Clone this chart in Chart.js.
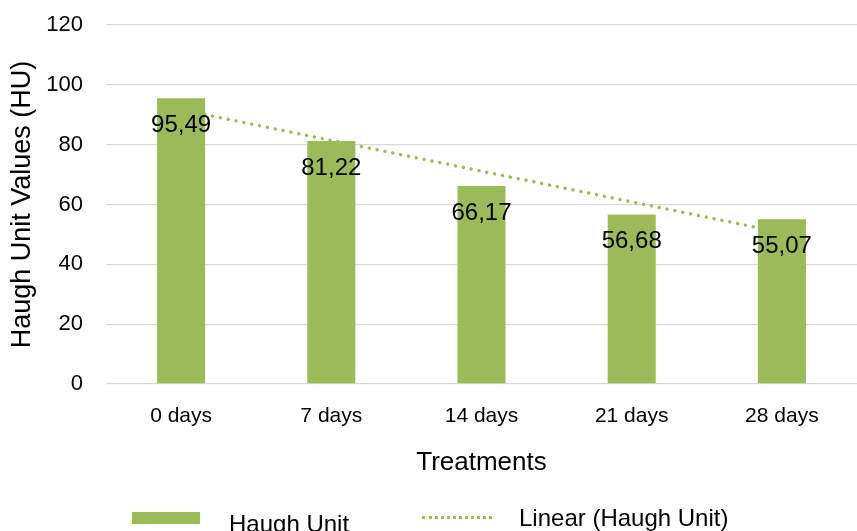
<!DOCTYPE html>
<html>
<head>
<meta charset="utf-8">
<script src="https://cdn.jsdelivr.net/npm/chart.js@4/dist/chart.umd.min.js"></script>
<style>
    html, body { margin: 0; padding: 0; background: #fff; overflow: hidden; }
    .wrap { position: relative; width: 857px; height: 531px; overflow: hidden; font-family: Arial, "Liberation Sans", sans-serif; }
    canvas { position: absolute; left: 0; top: 0; }
    .legend-box { position: absolute; left: 132px; top: 512px; width: 68px; height: 12px; background: #9BBB59; }
    .legend-dots { position: absolute; left: 422px; top: 516px; width: 70px; height: 0; border-top: 3px dotted #9BBB59; }
    .legend-text { position: absolute; font-size: 24px; line-height: 24px; color: #000; white-space: nowrap; }
</style>
</head>
<body>
<div class="wrap">
    <canvas id="haughChart" width="857" height="531"></canvas>
    <div class="legend-box"></div>
    <div class="legend-text" style="left:229px; top:512px;">Haugh Unit</div>
    <div class="legend-dots"></div>
    <div class="legend-text" style="left:519px; top:506px;">Linear (Haugh Unit)</div>
</div>
<script>
const FONT = 'Arial, "Liberation Sans", sans-serif';
const GREEN = '#9BBB59';

const treatments = ['0 days', '7 days', '14 days', '21 days', '28 days'];
const haughUnit = [95.49, 81.22, 66.17, 56.68, 55.07];
// trend line ends, the middle is spanned
const linearTrend = [91.7, null, null, null, 50.6];
const yTicks = [0, 20, 40, 60, 80, 100, 120];

let charts = {};

document.addEventListener('DOMContentLoaded', () => {
    createChart();
});

function formatComma(value) {
    return value.toFixed(2).replace('.', ',');
}

const barLabels = {
    id: 'barLabels',
    afterDatasetsDraw(chart) {
        const ctx = chart.ctx;
        const meta = chart.getDatasetMeta(0);
        ctx.save();
        ctx.font = '24px ' + FONT;
        ctx.fillStyle = '#000';
        ctx.textAlign = 'center';
        ctx.textBaseline = 'middle';
        meta.data.forEach((bar, i) => {
            ctx.fillText(formatComma(haughUnit[i]), bar.x, bar.y + 27);
        });
        ctx.restore();
    }
};

function createChart() {
    charts.haugh = new Chart(document.getElementById('haughChart'), {
        type: 'bar',
        data: {
            labels: treatments,
            datasets: [{
                label: 'Haugh Unit',
                data: haughUnit,
                backgroundColor: GREEN,
                borderWidth: 0,
                barPercentage: 0.32,
                categoryPercentage: 1,
                order: 1
            }, {
                type: 'line',
                label: 'Linear (Haugh Unit)',
                data: linearTrend,
                borderColor: GREEN,
                borderWidth: 3.4,
                borderDash: [0.1, 7.9],
                borderCapStyle: 'round',
                pointRadius: 0,
                spanGaps: true,
                fill: false,
                order: 2
            }]
        },
        options: {
            responsive: false,
            animation: false,
            layout: { padding: { left: 0, right: 0, top: 25, bottom: 47 } },
            plugins: {
                legend: { display: false },
                tooltip: { enabled: false }
            },
            scales: {
                x: {
                    grid: { display: false, drawTicks: false },
                    border: { display: false },
                    ticks: { color: '#000', font: { family: FONT, size: 21 }, padding: 20, maxRotation: 0 },
                    title: {
                        display: true,
                        text: 'Treatments',
                        color: '#000',
                        font: { family: FONT, size: 26 },
                        padding: { top: 4, bottom: 6 }
                    },
                    afterFit(scale) { scale.height = 100; scale.paddingLeft = 0; scale.paddingRight = 0; }
                },
                y: {
                    min: 0,
                    max: 120,
                    afterBuildTicks(scale) { scale.ticks = yTicks.map(v => ({ value: v })); },
                    grid: { color: '#D9D9D9', lineWidth: 1.3, drawTicks: false },
                    border: { display: false },
                    ticks: { color: '#000', font: { family: FONT, size: 22 }, padding: 23 },
                    title: {
                        display: true,
                        text: 'Haugh Unit Values (HU)',
                        color: '#000',
                        font: { family: FONT, size: 27 },
                        padding: { top: 6, bottom: 4 }
                    },
                    afterFit(scale) { scale.width = 106; scale.paddingTop = 0; scale.paddingBottom = 0; }
                }
            }
        },
        plugins: [barLabels]
    });
}
</script>
</body>
</html>
